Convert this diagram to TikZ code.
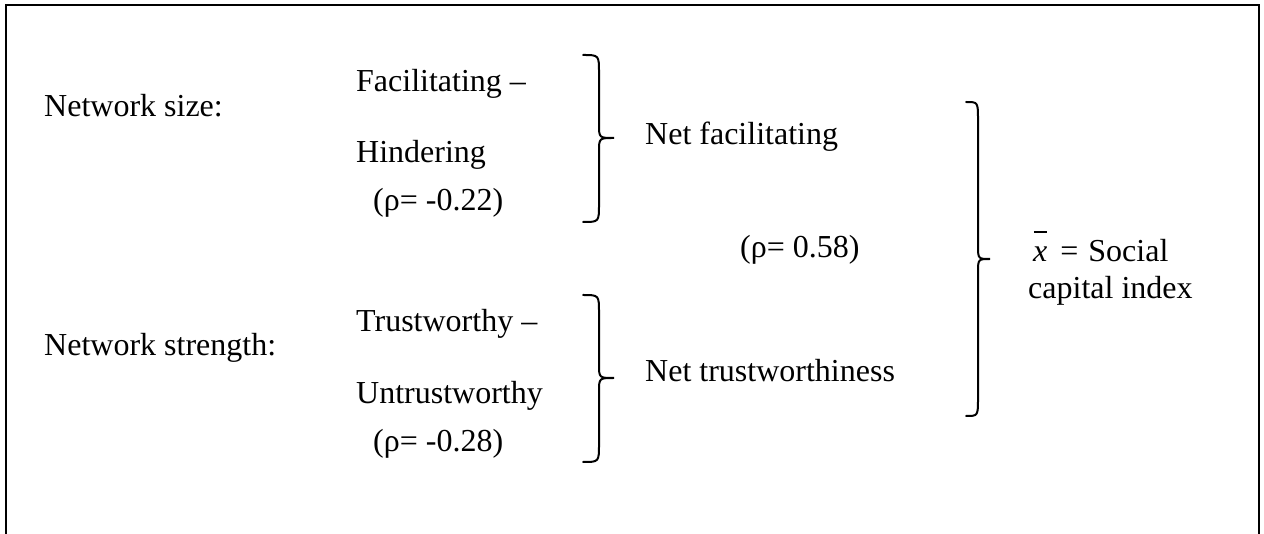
\documentclass[tikz,border=0pt]{standalone}
\usepackage{fontspec}
\setmainfont{Liberation Serif}

% right curly brace: #1 end x, #2 stem x, #3 tip x, #4 top y, #5 bottom y, #6 tip y
\newcommand{\rightcurly}[6]{%
  \draw[bracestroke] (#1,#4) .. controls (#2,#4) .. (#2,#4+18)
    -- (#2,#6-14) .. controls (#2,#6) .. (#3,#6)
    .. controls (#2,#6) .. (#2,#6+14)
    -- (#2,#5-18) .. controls (#2,#5) .. (#1,#5);}

\newcommand{\xbar}{\makebox[0pt][l]{\hspace{0.02em}\rule[0.92em]{0.4em}{0.05em}}\textit{x}}

\begin{document}
\begin{tikzpicture}[x=1pt,y=-1pt,
  lbl/.style={anchor=base west, inner sep=0pt, font=\fontsize{32}{38}\selectfont},
  bracestroke/.style={line width=2pt, line cap=round},
  frame/.style={line width=2.2pt}]

\useasboundingbox (0,0) rectangle (1264,534);
\fill[white] (0,0) rectangle (1264,534);

% open frame, running past the lower edge
\draw[frame] (6,560) -- (6,5) -- (1259,5) -- (1259,560);

% row headings
\node[lbl] (size)     at (44,117) {Network size:};
\node[lbl] (strength) at (44,356) {Network strength:};

% components of network size
\node[lbl] (fac)  at (356,92)  {Facilitating –};
\node[lbl] (hin)  at (356,163) {Hindering};
\node[lbl] (rho1) at (373,211) {(ρ= -0.22)};

% components of network strength
\node[lbl] (tru)  at (356,332) {Trustworthy –};
\node[lbl] (unt)  at (356,404) {Untrustworthy};
\node[lbl] (rho2) at (373,451) {(ρ= -0.28)};

% combined measures
\node[lbl] (netfac) at (645,145) {Net facilitating};
\node[lbl] (nettru) at (645,382) {Net trustworthiness};
\node[lbl] (rho3)   at (740,258) {(ρ= 0.58)};

% index
\node[lbl] (idx1) at (1033,262) {\xbar\hspace{13pt}=\hspace{10pt}Social};
\node[lbl] (idx2) at (1028,299) {capital index};

% braces
\rightcurly{583}{599}{614}{55}{222}{138}
\rightcurly{583}{599}{614}{295}{462}{378}
\rightcurly{966}{978}{990}{102}{416}{259}
\end{tikzpicture}
\end{document}
